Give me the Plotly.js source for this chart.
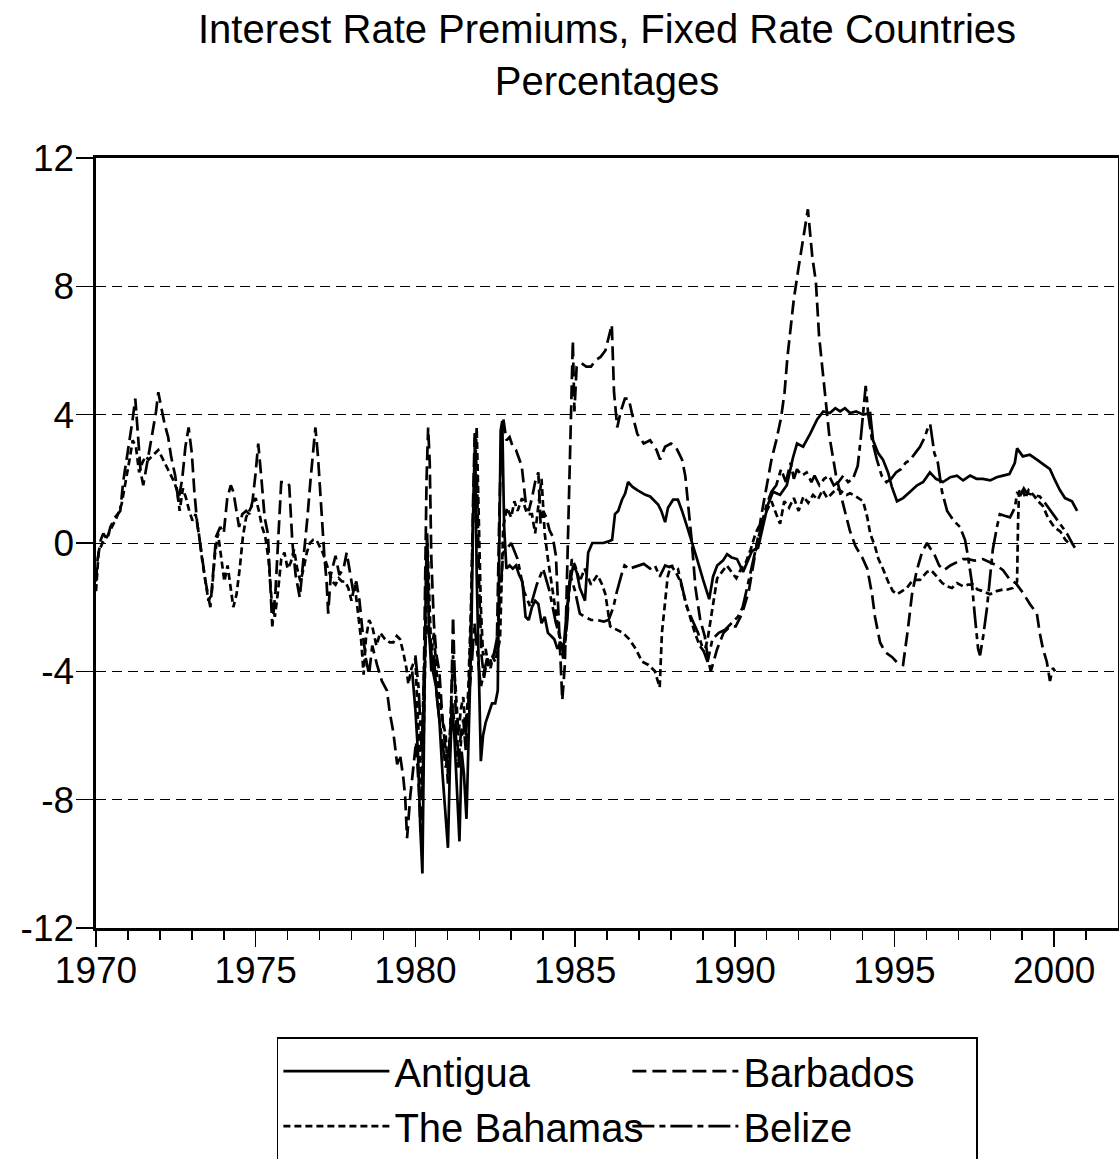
<!DOCTYPE html>
<html><head><meta charset="utf-8">
<script src="https://cdn.plot.ly/plotly-3.0.1.min.js"></script>
<style>html,body{margin:0;padding:0;background:#fff;}</style>
</head><body>
<div id="chart" style="width:1119px;height:1159px;"></div>
<script>
const seriesNames = ["Antigua", "Barbados", "The Bahamas", "Belize"];
const xTickYears = [1970, 1975, 1980, 1985, 1990, 1995, 2000];
const xTickLabels = ["1970", "1975", "1980", "1985", "1990", "1995", "2000"];
const xMinorYears = [1971,1972,1973,1974,1976,1977,1978,1979,1981,1982,1983,1984,1986,1987,1988,1989,1991,1992,1993,1994,1996,1997,1998,1999,2001];
const yTickValues = [-12, -8, -4, 0, 4, 8, 12];
const yTickLabels = ["-12", "-8", "-4", "0", "4", "8", "12"];

const antiguaYears = [1979.90,1980.00,1980.08,1980.15,1980.22,1980.28,1980.33,1980.37,1980.42,1980.50,1980.58,1980.67,1980.75,1980.85,1980.95,1981.02,1981.08,1981.15,1981.22,1981.30,1981.38,1981.45,1981.52,1981.60,1981.67,1981.75,1981.82,1981.87,1981.92,1982.00,1982.05,1982.12,1982.20,1982.30,1982.40,1982.50,1982.58,1982.63,1982.67,1982.72,1982.78,1982.85,1982.95,1983.05,1983.15,1983.25,1983.35,1983.45,1983.55,1983.65,1983.75,1983.85,1983.95,1984.05,1984.15,1984.25,1984.35,1984.45,1984.55,1984.63,1984.75,1984.85,1984.94,1985.05,1985.15,1985.31,1985.41,1985.54,1985.70,1985.88,1986.05,1986.16,1986.25,1986.35,1986.47,1986.57,1986.66,1986.80,1986.95,1987.10,1987.20,1987.35,1987.50,1987.60,1987.70,1987.82,1987.91,1988.07,1988.22,1988.35,1988.51,1988.67,1988.82,1989.01,1989.20,1989.32,1989.45,1989.63,1989.76,1989.90,1990.07,1990.26,1990.40,1990.54,1990.73,1990.89,1991.04,1991.20,1991.32,1991.42,1991.63,1991.82,1991.95,1992.14,1992.36,1992.58,1992.77,1992.98,1993.15,1993.30,1993.45,1993.61,1993.80,1994.02,1994.24,1994.33,1994.49,1994.64,1994.80,1994.92,1995.08,1995.27,1995.49,1995.71,1995.90,1996.11,1996.30,1996.52,1996.75,1996.96,1997.15,1997.37,1997.57,1997.77,1998.00,1998.20,1998.40,1998.60,1998.77,1998.84,1999.02,1999.24,1999.46,1999.65,1999.87,2000.03,2000.18,2000.34,2000.56,2000.72];
const antiguaValues = [-4.0,-5.2,-6.5,-8.8,-10.3,-5.0,-1.0,0.3,-2.5,-4.0,-3.5,-4.8,-5.5,-7.2,-8.5,-9.5,-7.0,-5.0,-6.0,-7.8,-9.3,-6.5,-7.2,-8.6,-6.0,-3.0,1.5,3.3,-1.0,-4.5,-6.8,-6.0,-5.6,-5.3,-5.0,-5.0,-4.6,0.0,3.5,3.8,0.5,-0.8,-0.7,-0.8,-0.7,-1.0,-1.2,-2.3,-2.4,-2.0,-1.8,-1.9,-2.5,-2.3,-2.8,-2.9,-3.0,-3.3,-3.1,-3.4,-2.0,-1.2,-0.7,-0.9,-1.4,-1.8,-0.3,0.0,0.0,0.0,0.05,0.1,0.9,1.0,1.35,1.55,1.9,1.75,1.65,1.55,1.5,1.45,1.3,1.2,1.0,0.65,1.1,1.35,1.35,1.0,0.5,0.0,-0.5,-1.15,-1.75,-1.05,-0.7,-0.55,-0.35,-0.45,-0.5,-0.9,-0.6,-0.25,-0.15,0.5,1.2,1.6,1.55,1.5,1.8,2.65,3.1,3.0,3.4,3.85,4.1,4.05,4.2,4.1,4.2,4.05,4.1,4.0,4.05,3.2,2.8,2.6,2.2,1.75,1.3,1.4,1.6,1.8,1.9,2.2,2.0,1.9,2.05,2.1,1.95,2.1,2.0,2.0,1.95,2.05,2.1,2.15,2.5,2.95,2.7,2.75,2.6,2.45,2.3,1.95,1.65,1.4,1.3,1.0];

const barbadosYears = [1970.00,1970.05,1970.15,1970.23,1970.35,1970.45,1970.60,1970.76,1970.85,1971.01,1971.14,1971.23,1971.32,1971.40,1971.48,1971.61,1971.76,1971.88,1971.95,1972.05,1972.15,1972.26,1972.35,1972.48,1972.58,1972.70,1972.80,1972.90,1973.00,1973.08,1973.17,1973.26,1973.42,1973.58,1973.68,1973.76,1973.89,1974.00,1974.11,1974.22,1974.30,1974.39,1974.48,1974.58,1974.70,1974.80,1974.90,1975.00,1975.08,1975.18,1975.28,1975.38,1975.45,1975.52,1975.62,1975.72,1975.80,1975.95,1976.05,1976.15,1976.25,1976.38,1976.50,1976.62,1976.72,1976.80,1976.87,1976.95,1977.05,1977.15,1977.22,1977.27,1977.35,1977.50,1977.62,1977.75,1977.85,1977.95,1978.05,1978.15,1978.25,1978.35,1978.45,1978.55,1978.65,1978.80,1978.95,1979.11,1979.20,1979.31,1979.43,1979.52,1979.62,1979.68,1979.74,1979.84,1979.93,1980.02,1980.10,1980.17,1980.24,1980.30,1980.35,1980.40,1980.45,1980.50,1980.58,1980.66,1980.75,1980.85,1980.95,1981.02,1981.10,1981.18,1981.26,1981.35,1981.42,1981.50,1981.58,1981.66,1981.74,1981.80,1981.86,1981.93,1982.00,1982.07,1982.15,1982.25,1982.35,1982.45,1982.55,1982.62,1982.68,1982.75,1982.85,1982.95,1983.05,1983.15,1983.25,1983.33,1983.45,1983.55,1983.65,1983.75,1983.85,1983.92,1984.00,1984.10,1984.20,1984.30,1984.40,1984.50,1984.60,1984.68,1984.75,1984.82,1984.88,1984.93,1984.98,1985.05,1985.20,1985.35,1985.50,1985.65,1985.80,1985.95,1986.10,1986.15,1986.22,1986.32,1986.43,1986.56,1986.68,1986.78,1986.95,1987.15,1987.35,1987.55,1987.66,1987.82,1988.00,1988.15,1988.25,1988.35,1988.45,1988.55,1988.65,1988.77,1988.92,1989.06,1989.16,1989.25,1989.45,1989.65,1989.85,1990.03,1990.23,1990.44,1990.59,1990.68,1990.84,1990.99,1991.15,1991.30,1991.45,1991.56,1991.65,1991.75,1991.85,1992.00,1992.15,1992.29,1992.43,1992.54,1992.64,1992.80,1992.96,1993.18,1993.40,1993.60,1993.78,1993.99,1994.15,1994.30,1994.39,1994.55,1994.71,1994.92,1995.11,1995.27,1995.42,1995.55,1995.70,1995.86,1996.02,1996.14,1996.27,1996.40,1996.55,1996.75,1996.96,1997.15,1997.30,1997.50,1997.77,1998.00,1998.20,1998.40,1998.62,1998.80,1999.02,1999.24,1999.46,1999.55,1999.65,1999.77,1999.87,1999.96,2000.03,2000.09];
const barbadosValues = [-1.2,-0.5,0.1,0.3,0.1,0.5,0.8,1.0,1.9,2.9,3.8,4.5,3.3,2.2,1.8,2.5,3.4,4.1,4.7,4.2,3.7,3.3,2.7,2.1,1.3,2.0,3.0,3.6,2.8,1.6,0.6,0.0,-1.15,-2.0,-0.8,0.2,0.5,0.3,1.4,1.8,1.6,1.1,0.5,0.9,1.0,0.9,1.3,2.2,3.1,2.0,0.8,0.3,-1.0,-2.6,-1.5,0.5,1.9,1.9,1.8,0.0,-1.0,-1.7,-0.5,0.8,2.0,2.9,3.6,2.7,1.0,-0.4,-1.2,-2.2,-1.0,-0.4,-1.0,-0.8,-0.3,-0.9,-1.5,-1.2,-1.8,-2.8,-3.6,-4.1,-3.2,-3.8,-4.3,-4.6,-5.3,-5.9,-6.9,-6.6,-7.3,-7.9,-9.2,-7.9,-7.0,-6.2,-7.5,-9.0,-6.0,-1.5,2.0,3.6,2.5,-0.5,-2.5,-3.5,-4.0,-5.5,-6.5,-7.5,-6.0,-2.3,-5.2,-6.8,-6.0,-5.5,-6.5,-5.0,-2.5,1.0,3.5,2.0,-1.5,-3.5,-4.2,-3.6,-3.8,-3.5,-3.2,0.5,3.0,3.9,3.2,3.3,3.0,2.9,2.6,2.4,1.3,1.0,1.4,1.9,2.2,0.6,1.0,0.8,0.4,0.2,-0.4,-2.5,-4.9,-3.8,-1.0,2.0,4.2,6.3,4.1,5.5,5.6,5.5,5.5,5.7,5.8,6.0,6.6,6.8,4.7,3.6,4.1,4.5,4.5,4.05,3.4,3.1,3.2,2.9,2.6,3.0,3.1,3.0,2.8,2.6,2.1,1.1,0.1,-1.4,-2.4,-2.9,-3.6,-4.0,-3.3,-2.8,-2.6,-2.6,-2.2,-1.5,-0.7,-0.1,0.9,1.7,2.6,3.2,3.9,4.7,5.8,6.7,7.6,8.6,9.5,10.4,8.9,8.15,6.45,4.8,3.35,2.05,1.2,0.4,-0.1,-0.45,-0.8,-1.6,-2.3,-3.1,-3.4,-3.55,-3.75,-3.8,-2.7,-1.6,-0.85,-0.3,0.0,-0.2,-0.4,-0.7,-0.85,-0.7,-0.6,-0.5,-0.5,-0.55,-0.5,-0.6,-0.7,-0.85,-1.15,-1.25,-1.55,-1.9,-2.2,-2.8,-3.3,-3.7,-4.3,-3.9,-4.0];

const bahamasYears = [1970.00,1970.08,1970.20,1970.35,1970.50,1970.65,1970.80,1970.95,1971.05,1971.15,1971.25,1971.35,1971.45,1971.55,1971.65,1971.75,1971.85,1971.95,1972.05,1972.15,1972.25,1972.35,1972.45,1972.55,1972.62,1972.72,1972.82,1972.92,1973.02,1973.12,1973.22,1973.32,1973.42,1973.52,1973.62,1973.72,1973.82,1973.92,1974.02,1974.12,1974.22,1974.30,1974.40,1974.50,1974.60,1974.70,1974.80,1974.90,1975.00,1975.10,1975.20,1975.30,1975.40,1975.50,1975.60,1975.70,1975.80,1975.90,1976.00,1976.10,1976.20,1976.30,1976.40,1976.50,1976.60,1976.70,1976.80,1976.90,1977.00,1977.10,1977.20,1977.30,1977.40,1977.50,1977.60,1977.70,1977.80,1977.90,1978.00,1978.10,1978.20,1978.30,1978.38,1978.45,1978.55,1978.65,1978.78,1978.90,1979.05,1979.20,1979.31,1979.42,1979.52,1979.62,1979.72,1979.78,1979.88,1980.00,1980.08,1980.15,1980.22,1980.28,1980.33,1980.38,1980.43,1980.50,1980.58,1980.66,1980.75,1980.85,1980.95,1981.02,1981.10,1981.18,1981.26,1981.35,1981.42,1981.50,1981.58,1981.66,1981.74,1981.80,1981.86,1981.92,1981.98,1982.05,1982.12,1982.20,1982.30,1982.40,1982.50,1982.58,1982.65,1982.75,1982.87,1983.00,1983.10,1983.20,1983.34,1983.50,1983.65,1983.75,1983.85,1983.95,1984.05,1984.15,1984.30,1984.45,1984.55,1984.63,1984.72,1984.80,1984.90,1985.00,1985.15,1985.30,1985.50,1985.70,1985.85,1985.95,1986.10,1986.30,1986.50,1986.70,1986.90,1987.10,1987.30,1987.50,1987.65,1987.72,1987.80,1987.90,1988.00,1988.15,1988.30,1988.45,1988.60,1988.75,1988.90,1989.05,1989.15,1989.30,1989.45,1989.60,1989.75,1989.90,1990.05,1990.20,1990.35,1990.50,1990.65,1990.80,1991.00,1991.15,1991.30,1991.42,1991.55,1991.70,1991.85,1992.00,1992.15,1992.30,1992.45,1992.60,1992.75,1992.90,1993.05,1993.20,1993.35,1993.50,1993.61,1993.80,1994.02,1994.15,1994.24,1994.39,1994.50,1994.64,1994.80,1994.95,1995.08,1995.25,1995.39,1995.58,1995.80,1996.02,1996.15,1996.33,1996.50,1996.65,1996.80,1996.96,1997.15,1997.30,1997.46,1997.60,1997.77,1997.99,1998.20,1998.40,1998.55,1998.71,1998.84,1998.87,1998.90,1999.00,1999.10,1999.20,1999.35,1999.50,1999.65,1999.80,2000.00,2000.20,2000.35,2000.50];
const bahamasValues = [-1.5,-0.3,0.0,0.2,0.5,0.8,1.2,2.0,2.6,3.2,3.0,2.2,2.5,2.7,2.6,2.7,2.8,2.9,2.7,2.5,2.3,2.1,1.9,1.6,1.0,1.7,1.4,1.0,0.7,0.9,0.3,-0.5,-1.2,-1.8,-1.6,-0.4,0.3,-0.5,-1.2,-0.7,-1.5,-2.0,-1.6,-0.8,0.2,0.8,1.0,1.2,1.4,1.0,0.5,0.2,-0.5,-1.8,-2.3,-1.5,-0.5,-0.3,-0.8,-0.6,-0.2,-0.8,-1.2,-0.8,-0.3,0.0,0.1,0.1,-0.1,-0.3,-0.6,-0.9,-1.2,-1.3,-1.1,-1.2,-1.2,-1.4,-1.8,-1.3,-2.2,-3.0,-4.1,-3.0,-2.4,-2.6,-3.2,-2.8,-3.0,-3.1,-3.1,-2.9,-3.0,-3.4,-3.9,-4.4,-3.9,-3.6,-5.5,-7.0,-8.0,-5.0,-2.0,0.0,-1.5,-3.5,-2.8,-4.0,-4.8,-5.5,-6.0,-7.2,-5.5,-3.5,-4.5,-6.0,-5.2,-4.8,-6.0,-4.5,-2.0,0.5,2.0,3.6,1.0,-2.0,-3.5,-3.3,-3.9,-3.5,-3.7,-3.3,-3.0,0.5,1.1,0.8,1.3,1.0,1.4,0.9,0.9,0.3,1.2,2.0,0.3,-0.5,-1.5,-2.6,-3.2,-3.6,-2.8,-1.5,-0.5,-0.7,-1.2,-0.8,-1.3,-1.0,-1.3,-1.6,-2.6,-2.7,-2.8,-3.0,-3.3,-3.7,-3.8,-4.0,-4.5,-2.8,-2.1,-1.05,-0.7,-0.9,-1.2,-1.8,-2.3,-2.8,-3.2,-3.4,-3.0,-2.0,-1.1,-0.9,-0.7,-0.9,-1.1,-0.8,-0.6,-0.2,0.3,0.6,1.0,1.3,0.9,0.6,1.3,1.1,1.4,1.0,1.45,1.25,1.5,1.35,1.65,1.4,1.55,1.7,1.6,1.5,1.55,1.45,1.3,0.8,0.3,-0.1,-0.5,-0.8,-1.2,-1.5,-1.6,-1.5,-1.4,-1.15,-1.15,-0.9,-0.85,-1.05,-1.25,-1.35,-1.4,-1.25,-1.35,-1.3,-1.3,-1.45,-1.5,-1.6,-1.5,-1.45,-1.45,-1.4,-1.2,0.6,1.6,1.7,1.4,1.65,1.5,1.3,1.15,0.8,0.5,0.35,0.1,-0.05];

const belizeYears = [1980.00,1980.10,1980.20,1980.27,1980.35,1980.45,1980.55,1980.65,1980.75,1980.85,1980.95,1981.05,1981.15,1981.25,1981.35,1981.45,1981.55,1981.65,1981.75,1981.85,1981.95,1982.05,1982.15,1982.25,1982.35,1982.45,1982.55,1982.65,1982.75,1982.85,1983.00,1983.20,1983.40,1983.60,1983.80,1984.00,1984.20,1984.40,1984.55,1984.65,1984.75,1984.85,1985.00,1985.15,1985.30,1985.50,1985.70,1985.90,1986.05,1986.20,1986.30,1986.45,1986.55,1986.70,1986.85,1987.00,1987.15,1987.35,1987.50,1987.65,1987.82,1987.95,1988.10,1988.22,1988.35,1988.50,1988.67,1988.85,1989.00,1989.15,1989.30,1989.50,1989.70,1989.90,1990.10,1990.25,1990.40,1990.55,1990.70,1990.85,1991.00,1991.15,1991.30,1991.45,1991.60,1991.75,1991.85,1991.95,1992.10,1992.25,1992.40,1992.50,1992.65,1992.80,1992.95,1993.10,1993.25,1993.40,1993.55,1993.70,1993.85,1993.95,1994.05,1994.10,1994.18,1994.30,1994.45,1994.60,1994.75,1994.90,1995.05,1995.20,1995.35,1995.50,1995.65,1995.80,1995.95,1996.05,1996.12,1996.25,1996.36,1996.49,1996.65,1996.85,1997.05,1997.21,1997.30,1997.42,1997.52,1997.62,1997.68,1997.78,1997.90,1998.00,1998.08,1998.21,1998.30,1998.45,1998.62,1998.77,1998.84,1998.95,1999.05,1999.15,1999.35,1999.55,1999.75,1999.96,2000.18,2000.40,2000.56,2000.65];
const belizeValues = [-3.5,-4.5,-6.5,-4.0,-2.5,-3.0,-4.0,-4.5,-5.5,-6.2,-7.0,-6.5,-5.0,-5.8,-7.0,-6.0,-5.8,-5.0,-4.0,-2.5,-3.5,-4.5,-4.0,-3.6,-3.9,-3.5,-3.0,-1.5,-0.3,-0.2,0.0,-0.5,-1.5,-2.0,-1.3,-0.8,-1.5,-2.5,-3.0,-3.5,-2.5,-1.0,-1.5,-2.2,-2.3,-2.4,-2.4,-2.45,-2.4,-2.0,-1.55,-1.0,-0.7,-0.8,-0.75,-0.7,-0.65,-0.8,-0.7,-1.05,-0.7,-0.75,-0.7,-0.8,-1.4,-2.0,-2.4,-2.8,-3.3,-3.7,-3.0,-2.8,-2.7,-2.5,-2.3,-2.0,-1.3,-0.6,0.0,0.6,1.2,1.6,1.8,2.3,1.9,2.5,2.0,2.3,2.1,2.2,1.9,2.1,1.8,2.0,2.1,1.8,1.9,2.1,1.9,2.0,2.4,3.3,4.4,4.9,4.0,3.2,2.6,2.1,1.9,2.0,2.2,2.3,2.5,2.6,2.8,3.0,3.3,3.6,3.7,2.8,2.5,1.6,1.0,0.7,0.5,0.1,-0.4,-1.2,-2.3,-3.3,-3.5,-2.9,-2.0,-1.0,-0.2,0.5,0.9,0.85,0.8,1.1,1.55,1.5,1.7,1.55,1.5,1.45,1.2,0.9,0.6,0.3,0.0,-0.15];

const seriesYears = [antiguaYears, barbadosYears, bahamasYears, belizeYears];
const seriesValues = [antiguaValues, barbadosValues, bahamasValues, belizeValues];
const seriesDash = ["solid", "14px,6px", "7px,4px", "22px,5px,6px,5px"];

const FONT = "Liberation Sans, Arial, Helvetica, sans-serif";
const traces = seriesNames.map((name, i) => ({
  type: "scatter", mode: "lines", name: name,
  x: seriesYears[i], y: seriesValues[i],
  line: {color: "#000", width: 2.7, dash: seriesDash[i]},
  hoverinfo: "skip"
}));

const layout = {
  width: 1119, height: 1159,
  paper_bgcolor: "#fff", plot_bgcolor: "#fff",
  margin: {l: 96, r: 1, t: 158, b: 231, autoexpand: false},
  font: {family: FONT, color: "#000"},
  title: {
    text: "Interest Rate Premiums, Fixed Rate Countries<br>Percentages",
    font: {family: FONT, size: 40, color: "#000"},
    x: 0.5425, xanchor: "center", xref: "container",
    y: 0.963, yanchor: "top", yref: "container"
  },
  showlegend: true,
  legend: {
    orientation: "h", x: 0.177, xanchor: "left", y: -0.1416, yanchor: "top",
    bordercolor: "#000", borderwidth: 1.5, bgcolor: "#fff",
    font: {family: FONT, size: 40, color: "#000"},
    itemwidth: 106, entrywidth: 228, entrywidthmode: "pixels",
    tracegroupgap: 0
  },
  xaxis: {
    range: [1970, 2002], tickmode: "array", tickvals: xTickYears, ticktext: xTickLabels,
    ticks: "outside", ticklen: 16, tickwidth: 1.5, tickcolor: "#000",
    minor: {tickmode: "array", tickvals: xMinorYears, ticks: "outside", ticklen: 9, tickwidth: 1.5, tickcolor: "#000", showgrid: false},
    showgrid: false, zeroline: false,
    showline: true, linewidth: 3, linecolor: "#000", mirror: true,
    tickfont: {family: FONT, size: 37, color: "#000"},
    ticklabelstandoff: -8
  },
  yaxis: {
    range: [-12, 12], tickmode: "array", tickvals: yTickValues, ticktext: yTickLabels,
    ticks: "outside", ticklen: 17, tickwidth: 1.5, tickcolor: "#000",
    showgrid: true, gridcolor: "#000", gridwidth: 1, griddash: "10px,6px",
    zeroline: false,
    showline: true, linewidth: 3.5, linecolor: "#000", mirror: true,
    tickfont: {family: FONT, size: 37, color: "#000"},
    ticklabelstandoff: -6
  }
};

Plotly.newPlot("chart", traces, layout, {displayModeBar: false, staticPlot: true});
</script>
</body></html>
